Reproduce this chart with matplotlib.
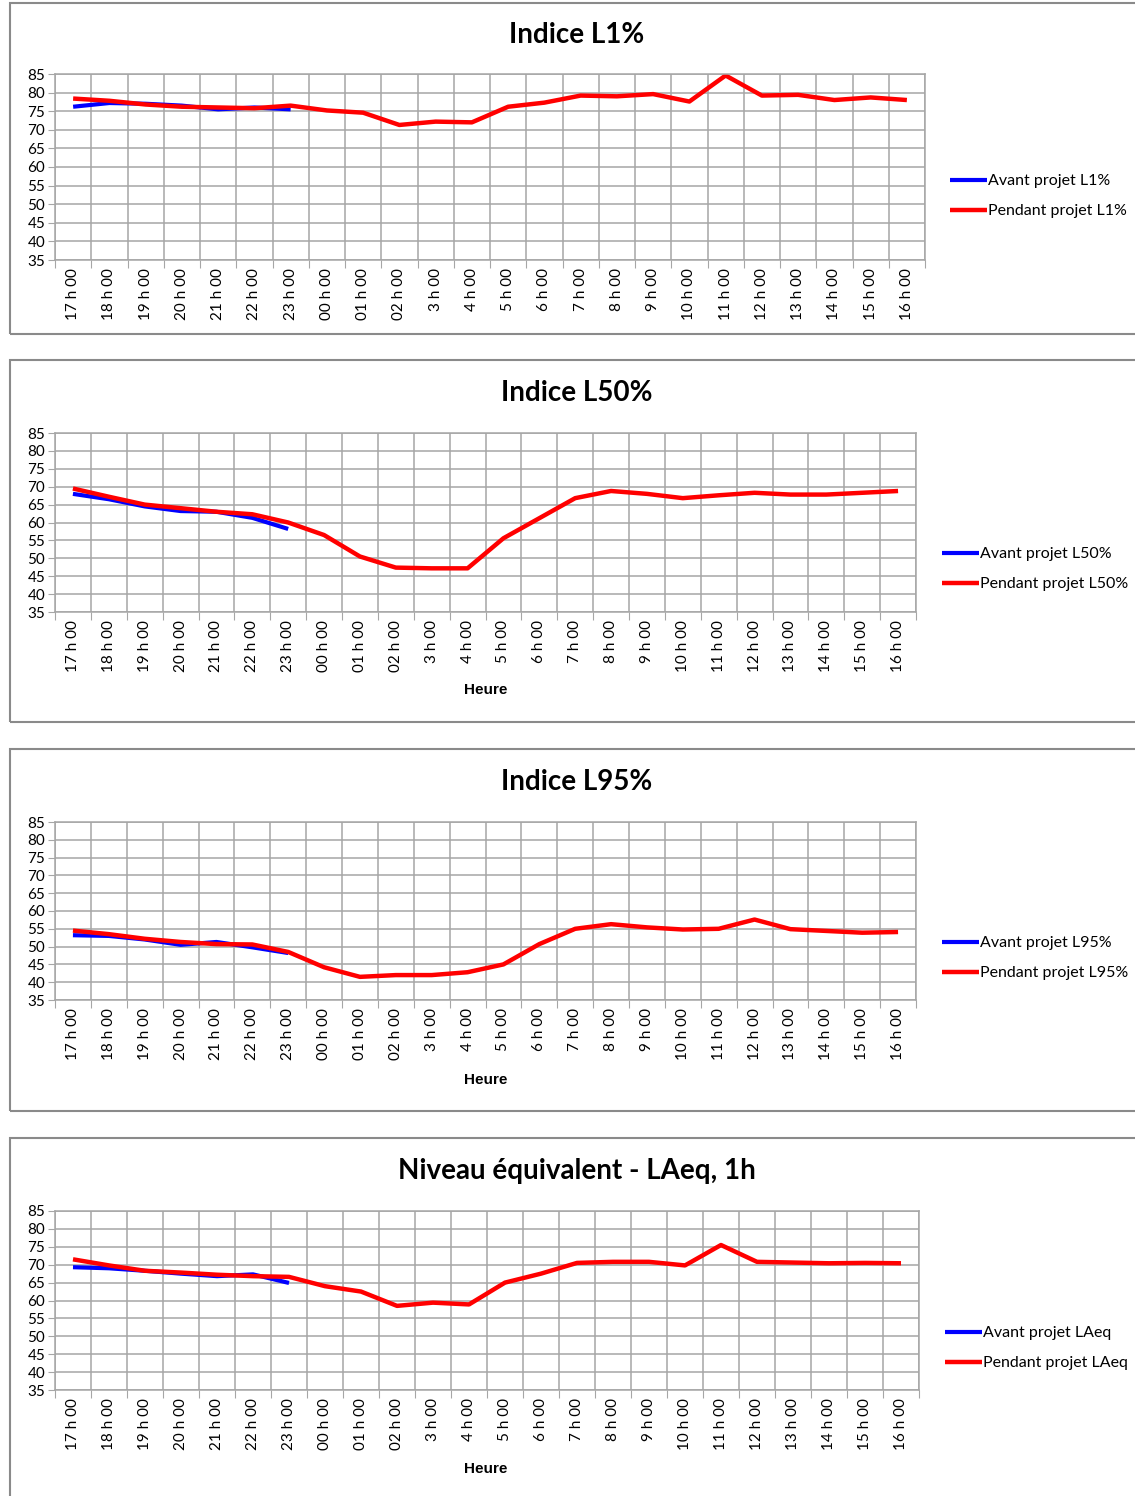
import matplotlib
matplotlib.use("Agg")
import matplotlib.pyplot as plt
import numpy as np
from matplotlib.patches import Rectangle

# Hours of the measurement day (17 h -> 16 h next day)
heures = ["17 h 00", "18 h 00", "19 h 00", "20 h 00", "21 h 00", "22 h 00",
          "23 h 00", "00 h 00", "01 h 00", "02 h 00", "3 h 00", "4 h 00",
          "5 h 00", "6 h 00", "7 h 00", "8 h 00", "9 h 00", "10 h 00",
          "11 h 00", "12 h 00", "13 h 00", "14 h 00", "15 h 00", "16 h 00"]

# Noise levels in dB(A)
avant_l1 = [76.2, 77.2, 77.0, 76.5, 75.5, 76.0, 75.5]
pendant_l1 = [78.4, 77.8, 76.8, 76.2, 76.0, 75.8, 76.5, 75.2, 74.6, 71.3,
              72.2, 72.0, 76.2, 77.3, 79.2, 79.0, 79.6, 77.6, 84.6, 79.2,
              79.4, 78.0, 78.7, 78.0]

avant_l50 = [68.0, 66.5, 64.5, 63.2, 63.0, 61.3, 58.2]
pendant_l50 = [69.5, 67.2, 65.0, 64.0, 63.0, 62.3, 60.0, 56.5, 50.5, 47.4,
               47.2, 47.2, 55.6, 61.2, 66.8, 68.8, 68.0, 66.8, 67.6, 68.3,
               67.8, 67.8, 68.3, 68.8]

avant_l95 = [53.2, 53.0, 52.0, 50.5, 51.3, 49.8, 48.2]
pendant_l95 = [54.5, 53.5, 52.2, 51.3, 50.7, 50.6, 48.5, 44.2, 41.5, 42.0,
               42.0, 42.8, 45.0, 50.7, 55.0, 56.3, 55.4, 54.8, 55.0, 57.6,
               54.9, 54.4, 53.9, 54.1]

avant_laeq = [69.3, 69.0, 68.3, 67.5, 66.8, 67.3, 64.9]
pendant_laeq = [71.5, 69.8, 68.3, 67.8, 67.2, 66.8, 66.6, 64.0, 62.5, 58.5,
                59.4, 58.9, 65.0, 67.5, 70.5, 70.8, 70.8, 69.8, 75.5, 70.8,
                70.6, 70.4, 70.5, 70.4]

W, H = 1135, 1496
fig = plt.figure(figsize=(W / 100, H / 100), dpi=100)

FONT = ["Lato", "DejaVu Sans"]
GRID = "#a6a6a6"
BORDER = "#8a8a8a"


def px_axes(left, top, right, bottom):
    return fig.add_axes([left / W, 1 - bottom / H, (right - left) / W, (bottom - top) / H])


def panel(box, area, titre, lab_avant, lab_pendant, avant, pendant, title_y,
          legend_xy, heure_y=None):
    x0, y0, x1, y1 = box
    fig.patches.append(Rectangle((x0 / W, 1 - y1 / H), (x1 - x0) / W, (y1 - y0) / H,
                                 transform=fig.transFigure, fill=False,
                                 edgecolor=BORDER, lw=1.5))
    ax = px_axes(*area)
    x = np.arange(len(heures))
    ax.plot(x[:len(avant)], avant, color="#0000ff", lw=3, solid_capstyle="butt",
            label=lab_avant)
    ax.plot(x, pendant, color="#ff0000", lw=3.2, solid_capstyle="butt",
            label=lab_pendant)
    ax.set_xlim(-0.5, len(heures) - 0.5)
    ax.set_ylim(35, 85)
    ax.set_yticks(np.arange(35, 86, 5))
    ax.set_xticks(np.arange(-0.5, len(heures), 1))
    ax.set_xticklabels([])
    ax.set_xticks(x, minor=True)
    ax.set_xticklabels(heures, minor=True, rotation=90, fontsize=11, family=FONT)
    ax.tick_params(axis="x", which="minor", length=0, pad=6)
    ax.tick_params(axis="x", which="major", length=6, color=GRID)
    ax.tick_params(axis="y", length=5, color=GRID, labelsize=11, pad=2)
    for t in ax.get_yticklabels():
        t.set_family(FONT)
    ax.grid(True, which="major", color=GRID, lw=1.1)
    ax.set_axisbelow(True)
    for s in ax.spines.values():
        s.set_color(GRID)
        s.set_linewidth(1.1)
    fig.text(577 / W, 1 - title_y / H, titre, ha="center", va="center",
             fontsize=20, fontweight="bold", family=FONT)
    if heure_y is not None:
        fig.text(486 / W, 1 - heure_y / H, "Heure", ha="center", va="center",
                 fontsize=11, fontweight="bold", family=["Liberation Sans", "DejaVu Sans"])
    lx, ly = legend_xy
    ax.legend(loc="upper left", bbox_to_anchor=(lx / W, 1 - ly / H),
              bbox_transform=fig.transFigure, frameon=False, handlelength=2.3,
              handletextpad=0.1, labelspacing=1.0, borderpad=0, borderaxespad=0,
              prop={"family": FONT, "size": 11.5})
    return ax


panel((10, 3, 1140, 334), (55, 74, 925, 260), "Indice L1%",
      "Avant projet L1%", "Pendant projet L1%", avant_l1, pendant_l1,
      35, (950, 174))
panel((10, 360, 1140, 722), (55, 433, 916, 612), "Indice L50%",
      "Avant projet L50%", "Pendant projet L50%", avant_l50, pendant_l50,
      393, (942, 547), heure_y=690)
panel((10, 749, 1140, 1111), (55, 822, 916, 1000), "Indice L95%",
      "Avant projet L95%", "Pendant projet L95%", avant_l95, pendant_l95,
      782, (942, 936), heure_y=1080)
panel((10, 1138, 1140, 1500), (55, 1211, 919, 1390), "Niveau équivalent - LAeq, 1h",
      "Avant projet LAeq", "Pendant projet LAeq", avant_laeq, pendant_laeq,
      1171, (945, 1326), heure_y=1469)

fig.savefig("out.png", dpi=100)
